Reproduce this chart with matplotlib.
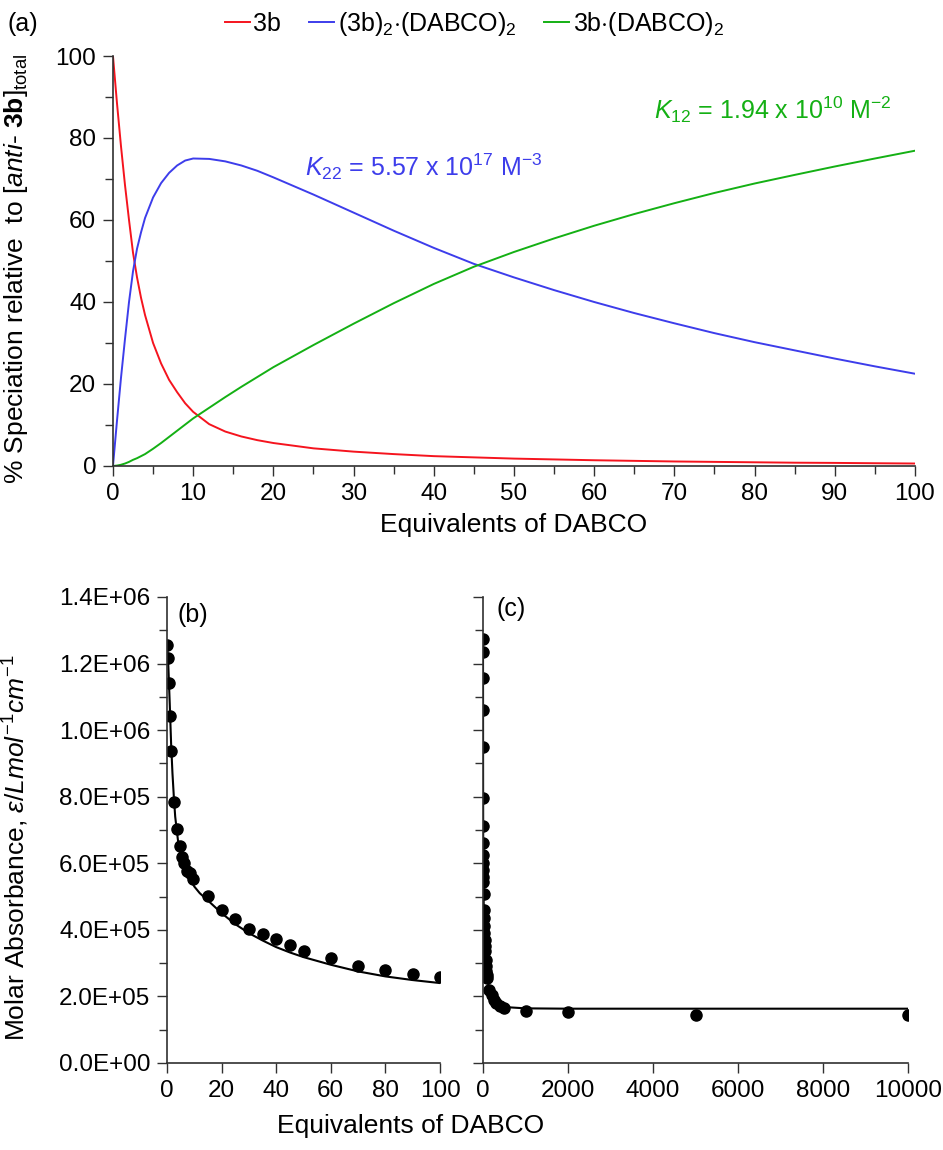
import matplotlib
matplotlib.use("Agg")
import matplotlib.pyplot as plt
from matplotlib.ticker import MultipleLocator, FuncFormatter

plt.rcParams["font.family"] = ["Liberation Sans", "DejaVu Sans"]
plt.rcParams["mathtext.fontset"] = "custom"
plt.rcParams["mathtext.rm"] = "Liberation Sans"
plt.rcParams["mathtext.it"] = "Liberation Sans:italic"
plt.rcParams["mathtext.bf"] = "Liberation Sans:bold"

# ---- panel (a): speciation curves ----
eq_a = [0, 0.5, 1, 1.5, 2, 2.5, 3, 3.5, 4, 5, 6, 7, 8, 9, 10, 12, 14, 16, 18,
        20, 25, 30, 35, 40, 45, 50, 55, 60, 65, 70, 75, 80, 85, 90, 95, 100]
free_3b = [100, 88.5, 78, 68.5, 60, 52, 46, 41, 36.8, 30, 25, 21, 18, 15.3,
           13.2, 10.2, 8.4, 7.2, 6.3, 5.6, 4.3, 3.5, 2.9, 2.4, 2.1, 1.8, 1.6,
           1.4, 1.25, 1.1, 1.0, 0.9, 0.8, 0.75, 0.67, 0.6]
dimer_22 = [0, 11, 21.5, 31, 40, 47.5, 53, 57, 60.5, 65.5, 69, 71.5, 73.3,
            74.5, 75, 74.9, 74.3, 73.3, 72, 70.4, 66.2, 61.8, 57.4, 53.2, 49.3,
            46, 42.9, 40, 37.3, 34.8, 32.4, 30.2, 28.2, 26.2, 24.3, 22.5]
complex_12 = [0, 0.1, 0.3, 0.6, 1.0, 1.5, 1.9, 2.4, 2.9, 4.2, 5.6, 7.1, 8.6,
              10.1, 11.6, 14.2, 16.8, 19.3, 21.7, 24.1, 29.5, 34.7, 39.7, 44.4,
              48.6, 52.2, 55.5, 58.6, 61.45, 64.1, 66.6, 68.9, 71.0, 73.05,
              75.0, 76.9]

# ---- panel (b): molar absorbance, 0-100 equiv ----
b_eq = [0, 0.25, 0.75, 1.1, 1.5, 2.4, 3.6, 4.6, 5.6, 6.4, 7.4, 8.4, 9.6, 15,
        20, 25, 30, 35, 40, 45, 50, 60, 70, 80, 90, 100]
b_abs = [1.256e6, 1.218e6, 1.141e6, 1.043e6, 0.937e6, 0.783e6, 0.704e6,
         0.652e6, 0.618e6, 0.601e6, 0.577e6, 0.570e6, 0.553e6, 0.503e6,
         4.6e5, 4.32e5, 4.03e5, 3.87e5, 3.72e5, 3.53e5, 3.36e5, 3.16e5,
         2.92e5, 2.78e5, 2.68e5, 2.58e5]
b_fit_eq = [0, 0.5, 1, 1.5, 2, 2.5, 3, 4, 5, 6, 8, 10, 12, 15, 20, 25, 30, 35,
            40, 45, 50, 60, 70, 80, 90, 100]
b_fit = [1.26e6, 1.19e6, 1.08e6, 0.96e6, 0.87e6, 0.80e6, 0.74e6, 0.67e6,
         0.63e6, 0.60e6, 0.56e6, 0.53e6, 0.51e6, 0.488e6, 4.5e5, 4.17e5,
         3.9e5, 3.68e5, 3.48e5, 3.32e5, 3.18e5, 2.95e5, 2.75e5, 2.6e5,
         2.49e5, 2.4e5]

# ---- panel (c): molar absorbance, 0-10000 equiv ----
c_eq = [0, 0.25, 0.75, 1.25, 1.75, 2.5, 3.5, 4.5, 5.5, 6.5, 7.5, 8.5, 9.5, 15,
        20, 25, 30, 35, 40, 45, 50, 60, 70, 80, 90, 100, 150, 200, 250, 300,
        400, 500, 1000, 2000, 5000, 10000]
c_abs = [1.273e6, 1.235e6, 1.158e6, 1.06e6, 0.95e6, 0.797e6, 0.713e6, 0.66e6,
         0.625e6, 0.60e6, 0.58e6, 0.56e6, 0.545e6, 0.507e6, 4.6e5, 4.35e5,
         4.1e5, 3.9e5, 3.7e5, 3.5e5, 3.35e5, 3.1e5, 2.9e5, 2.75e5, 2.65e5,
         2.55e5, 2.2e5, 2.05e5, 1.9e5, 1.8e5, 1.7e5, 1.65e5, 1.55e5, 1.52e5,
         1.45e5, 1.45e5]
c_fit_eq = [0, 1, 2, 5, 10, 20, 50, 100, 200, 300, 500, 1000, 2000, 5000, 10000]
c_fit = [1.27e6, 1.09e6, 0.87e6, 0.63e6, 0.53e6, 4.5e5, 3.3e5, 2.5e5, 1.95e5,
         1.78e5, 1.68e5, 1.64e5, 1.63e5, 1.63e5, 1.63e5]

RED = "#f5141e"
BLUE = "#3d3deb"
GREEN = "#14b014"
AXIS = "#303030"
TICK_FS = 17.5
LABEL_FS = 19


def style_axes(ax):
    for side in ("top", "right"):
        ax.spines[side].set_visible(False)
    for side in ("left", "bottom"):
        ax.spines[side].set_color(AXIS)
        ax.spines[side].set_linewidth(1.2)
    ax.tick_params(which="both", direction="out", color=AXIS, width=1.0)
    ax.tick_params(which="major", length=7, labelsize=TICK_FS, pad=5)
    ax.tick_params(which="minor", length=6)


fig = plt.figure(figsize=(9.43, 11.5), dpi=100)

# panel (a)
ax_a = fig.add_axes([0.1198, 0.5948, 0.8505, 0.3565])
style_axes(ax_a)
ax_a.plot(eq_a, free_3b, color=RED, lw=1.4, label="3b")
ax_a.plot(eq_a, dimer_22, color=BLUE, lw=1.4,
          label=r"(3b)$_2$$\cdot$(DABCO)$_2$")
ax_a.plot(eq_a, complex_12, color=GREEN, lw=1.4,
          label=r"3b$\cdot$(DABCO)$_2$")
ax_a.set_xlim(0, 100)
ax_a.set_ylim(0, 100)
ax_a.xaxis.set_major_locator(MultipleLocator(10))
ax_a.xaxis.set_minor_locator(MultipleLocator(5))
ax_a.yaxis.set_major_locator(MultipleLocator(20))
ax_a.yaxis.set_minor_locator(MultipleLocator(10))
ax_a.set_xlabel("Equivalents of DABCO", fontsize=LABEL_FS, labelpad=6)
ax_a.set_ylabel(r"% Speciation relative  to [$\mathit{anti}$- $\mathbf{3b}$]$_{\rm total}$",
                fontsize=LABEL_FS)
ax_a.yaxis.set_label_coords(-0.103, 0.48)
ax_a.text(24, 73, r"$K_{22}$ = 5.57 x 10$^{17}$ M$^{-3}$", color=BLUE,
          fontsize=18, va="center", ha="left")
ax_a.text(67.5, 87, r"$K_{12}$ = 1.94 x 10$^{10}$ M$^{-2}$", color=GREEN,
          fontsize=18, va="center", ha="left")
fig.legend(loc="center", bbox_to_anchor=(0.503, 0.979), ncol=3, frameon=False,
           fontsize=18, handlelength=1.0, handletextpad=0.15, columnspacing=1.1,
           borderaxespad=0)
fig.text(0.008, 0.979, "(a)", fontsize=18, va="center", ha="left")

# panels (b) and (c)
sci = FuncFormatter(lambda v, pos: f"{v:.1E}")
ax_b = fig.add_axes([0.1771, 0.0757, 0.2895, 0.4052])
ax_c = fig.add_axes([0.5122, 0.0757, 0.4508, 0.4052])
for ax in (ax_b, ax_c):
    style_axes(ax)
    ax.set_ylim(0, 1.4e6)
    ax.yaxis.set_major_locator(MultipleLocator(2e5))
    ax.yaxis.set_minor_locator(MultipleLocator(1e5))

ax_b.plot(b_fit_eq, b_fit, color="black", lw=1.5)
ax_b.plot(b_eq, b_abs, "o", color="black", ms=8)
ax_b.set_xlim(0, 100)
ax_b.xaxis.set_major_locator(MultipleLocator(20))
ax_b.yaxis.set_major_formatter(sci)
ax_b.text(0.04, 0.987, "(b)", transform=ax_b.transAxes, fontsize=18,
          va="top", ha="left")

ax_c.plot(c_fit_eq, c_fit, color="black", lw=1.5)
ax_c.plot(c_eq, c_abs, "o", color="black", ms=8)
ax_c.set_xlim(0, 10000)
ax_c.xaxis.set_major_locator(MultipleLocator(2000))
ax_c.tick_params(axis="y", which="both", labelleft=False)
ax_c.text(0.032, 1.0, "(c)", transform=ax_c.transAxes, fontsize=18,
          va="top", ha="left")

fig.text(0.435, 0.021, "Equivalents of DABCO", fontsize=LABEL_FS, ha="center",
         va="center")
fig.text(0.017, 0.263, r"Molar Absorbance, $\mathit{\varepsilon/Lmol^{-1}cm^{-1}}$",
         fontsize=LABEL_FS, rotation=90, ha="center", va="center")

fig.savefig("out.png", dpi=100)
